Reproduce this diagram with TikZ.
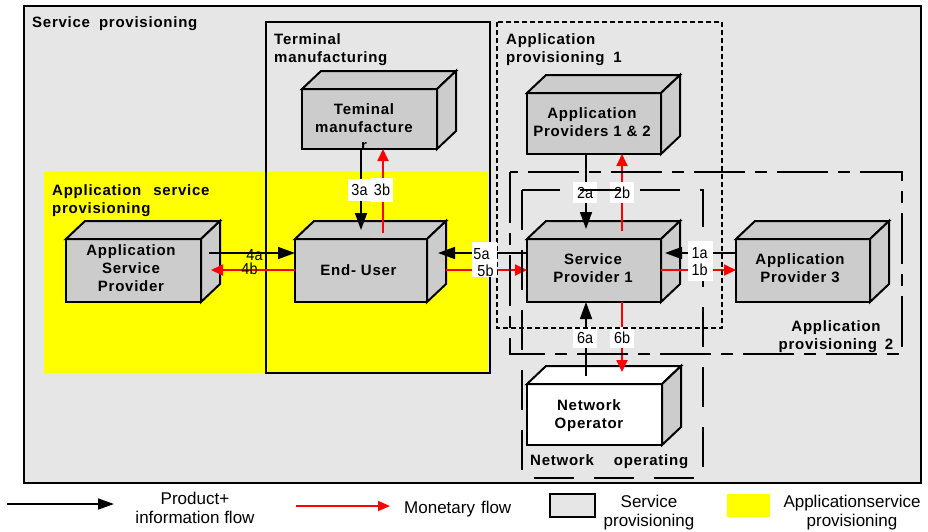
\documentclass[tikz,border=0pt]{standalone}
\usepackage{fontspec}
\setmainfont{Liberation Sans}
\newfontfamily\lblfam{Liberation Sans}[LetterSpace=5]
\newfontfamily\numfam{Liberation Sans}[FakeStretch=0.9]
\usetikzlibrary{arrows.meta}

\definecolor{bggray}{RGB}{230,230,230}
\definecolor{facegray}{RGB}{204,204,204}
\definecolor{ylw}{RGB}{255,255,0}
\definecolor{money}{RGB}{255,0,0}

\newcommand\lblfont{\lblfam\bfseries\fontsize{15}{18}\selectfont}
\newcommand\numfont{\numfam\fontsize{16}{17}\selectfont}
\newcommand\legfont{\fontsize{17}{19}\selectfont}

% top and right faces of a box whose front face is the node #1
\newcommand\cubefaces[3]{%
  \filldraw[cubeline,fill=#2] (#1.north west) -- ++(19,-18)
    -- ([shift={(19,-18)}]#1.north east) -- (#1.north east) -- cycle;
  \filldraw[cubeline,fill=#3] (#1.north east) -- ([shift={(19,-18)}]#1.north east)
    -- ([shift={(19,-18)}]#1.south east) -- (#1.south east) -- cycle;
}

\tikzset{
  cubeline/.style={draw=black,line width=2pt,line join=miter},
  front/.style={cubeline,rectangle,inner sep=0pt,outer sep=0pt},
  pf/.style={draw=black,line width=1.6pt,-{Triangle[length=17pt 0 0,width=12pt 0 0]}},
  mf/.style={draw=money,line width=1.8pt,-{Triangle[length=12pt 0 0,width=11pt 0 0]}},
  boxtxt/.style={font=\lblfont,align=center,inner sep=0pt,anchor=north},
  regtxt/.style={font=\lblfont,align=left,inner sep=0pt,anchor=north west},
  numbox/.style={fill=white,inner sep=0pt,font=\numfont},
  numtxt/.style={inner sep=0pt,font=\numfont},
  apone/.style={draw=black,line width=1.6pt,dash pattern=on 5pt off 3pt},
  aptwo/.style={draw=black,line width=1.6pt,dash pattern=on 51pt off 10pt on 12pt off 10pt},
  netop/.style={draw=black,line width=1.6pt,dash pattern=on 40pt off 20pt},
  legtxt/.style={font=\legfont,align=center,inner sep=0pt}
}

\begin{document}
\begin{tikzpicture}[x=1pt,y=-1pt]
\useasboundingbox (0,0) rectangle (928,531);
\fill[white] (0,0) rectangle (928,531);

% domains
\draw[line width=2pt,fill=bggray] (24,6) rectangle (921,483);
\fill[ylw] (44,172) rectangle (488,373);
\draw[line width=2pt] (266,22) rectangle (490,373);

% actors
\node[front,fill=facegray,minimum width=135pt,minimum height=60pt] (tm) at (369.5,119) {};
\cubefaces{tm}{facegray}{facegray}
\node[front,fill=facegray,minimum width=134pt,minimum height=61pt] (ap) at (594,123.5) {};
\cubefaces{ap}{facegray}{facegray}
\node[front,fill=facegray,minimum width=135pt,minimum height=63pt] (asp) at (133.5,270.5) {};
\cubefaces{asp}{facegray}{facegray}
\node[front,fill=facegray,minimum width=132pt,minimum height=63pt] (eu) at (361,270.5) {};
\cubefaces{eu}{facegray}{facegray}
\node[front,fill=facegray,minimum width=134pt,minimum height=63pt] (sp) at (594,270.5) {};
\cubefaces{sp}{facegray}{facegray}
\node[front,fill=facegray,minimum width=134pt,minimum height=63pt] (apt) at (803,270.5) {};
\cubefaces{apt}{facegray}{facegray}
\node[front,fill=white,minimum width=135pt,minimum height=61pt] (no) at (594.5,414.5) {};
\cubefaces{no}{white}{facegray}

\node[boxtxt] (tm-t) at (364,103) {Teminal\\manufacture\\r};
\node[boxtxt] (ap-t) at (592,107) {Application\\Providers 1 \& 2};
\node[boxtxt] (asp-t) at (131,244) {Application\\Service\\Provider};
\node[boxtxt] (eu-t) at (358.5,264) {End- User};
\node[boxtxt] (sp-t) at (593,253) {Service\\Provider 1};
\node[boxtxt] (apt-t) at (800,253) {Application\\Provider 3};
\node[boxtxt] (no-t) at (589,399) {Network\\Operator};

% flows
\draw[pf] ([xshift=-8.5pt]tm.south) -- ([yshift=9pt]eu.north);
\draw[mf] ([xshift=22pt,yshift=6pt]eu.north) -- ([xshift=13.5pt]tm.south);
\draw[pf] ([xshift=-8pt]ap.south) -- ([xshift=-8pt,yshift=10pt]sp.north);
\draw[mf] ([xshift=28pt,yshift=8pt]sp.north) -- ([xshift=28pt]ap.south);
\draw[pf] ([xshift=8pt,yshift=17.5pt]asp.east) -- ([yshift=17.5pt]eu.west);
\draw[mf] ([yshift=0.5pt]eu.west) -- ([xshift=10pt,yshift=0.5pt]asp.east);
\draw[pf] ([yshift=17.5pt]sp.west) -- ([xshift=11pt,yshift=17.5pt]eu.east);
\draw[mf] ([xshift=19pt,yshift=0.5pt]eu.east) -- ([yshift=0.5pt]sp.west);
\draw[pf] ([yshift=17.5pt]apt.west) -- ([xshift=4pt,yshift=17.5pt]sp.east);
\draw[mf] ([yshift=0.5pt]sp.east) -- ([yshift=0.5pt]apt.west);
\draw[pf] ([xshift=-8.5pt,yshift=8pt]no.north) -- ([xshift=-8pt]sp.south);
\draw[mf] ([xshift=28pt]sp.south) -- ([xshift=27.5pt,yshift=12pt]no.north);

% flow numbers
\node[numbox,minimum width=23pt,minimum height=22pt] (l3a) at (359.5,190) {3a};
\node[numbox,minimum width=22pt,minimum height=24pt] (l3b) at (382,190) {3b};
\node[numbox,minimum width=24pt,minimum height=21pt] (l2a) at (585,192.5) {2a};
\node[numbox,minimum width=24pt,minimum height=21pt] (l2b) at (622,192.5) {2b};
\node[numbox,minimum width=24pt,minimum height=21pt] (l6a) at (585,337.5) {6a};
\node[numbox,minimum width=24pt,minimum height=21pt] (l6b) at (622,337.5) {6b};
\node[numtxt] (l4a) at (254.5,255) {4a};
\node[numtxt] (l4b) at (249.5,269) {4b};

% provisioning domains
\draw[apone] (497,22) rectangle (722,328);
\draw[aptwo] (510,172) rectangle (902,354);
\draw[netop] (522,190) rectangle (703,478);

\node[fill=white,inner sep=0pt,minimum width=25pt,minimum height=35pt] (l5) at (484.5,259.5) {};
\node[numtxt] (l5a) at (481.5,254) {5a};
\node[numtxt] (l5b) at (485.5,271) {5b};
\node[fill=white,inner sep=0pt,minimum width=25pt,minimum height=40pt] (l1) at (700.5,261) {};
\node[numtxt] (l1a) at (699.5,253) {1a};
\node[numtxt] (l1b) at (699.5,270) {1b};

% domain titles
\node[regtxt] (r-sp) at (32,16) {Service\hspace{9pt}provisioning};
\node[regtxt] (r-tm) at (274,33) {Terminal\\manufacturing};
\node[regtxt] (r-a1) at (506,33) {Application\\provisioning\hspace{9pt}1};
\node[regtxt] (r-as) at (52,184) {Application\hspace{12pt}service\\provisioning};
\node[boxtxt,align=center] (r-a2) at (836,320) {Application\\provisioning\hspace{8pt}2};
\node[regtxt] (r-no) at (530,454) {Network\hspace{20pt}operating};

% legend
\coordinate (lgb0) at (7,504);
\coordinate (lgb1) at (114,504);
\draw[draw=black,line width=1.6pt,-{Triangle[length=16pt 0 0,width=11pt 0 0]}] (lgb0) -- (lgb1);
\node[legtxt,anchor=north] (lgbt) at (195,492) {Product+\\information flow};
\coordinate (lgr0) at (296,506);
\coordinate (lgr1) at (390,506);
\draw[draw=money,line width=1.8pt,-{Triangle[length=12pt 0 0,width=10pt 0 0]}] (lgr0) -- (lgr1);
\node[legtxt,anchor=west] (lgrt) at (404,509.5) {Monetary\hspace{6pt}flow};
\node[draw,line width=2pt,fill=bggray,minimum width=45pt,minimum height=23pt,inner sep=0pt] (lgsq) at (572.5,505.5) {};
\node[legtxt,anchor=north] (lgst) at (649,495) {Service\\provisioning};
\node[fill=ylw,minimum width=43pt,minimum height=23pt,inner sep=0pt] (lgy) at (748.5,505.5) {};
\node[legtxt,anchor=north] (lgyt) at (852,495) {Applicationservice\\provisioning};
\end{tikzpicture}
\end{document}
